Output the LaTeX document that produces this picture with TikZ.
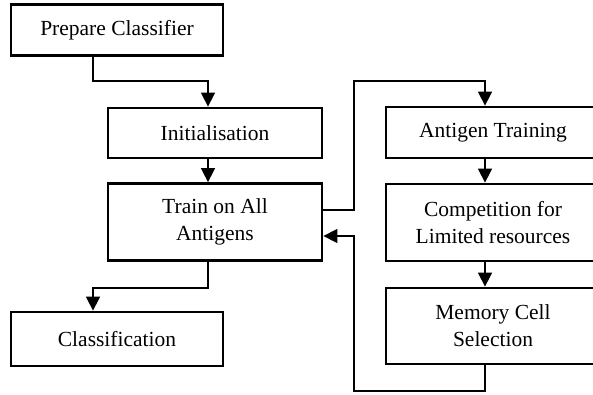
\documentclass[tikz,border=0pt]{standalone}
\usepackage{fontspec}
\setmainfont{Liberation Serif}
\usetikzlibrary{arrows.meta,calc}
\tikzset{
  boxnode/.style={draw=black, line width=2.8pt, rectangle, minimum width=212pt, align=center, inner sep=0pt, font=\fontsize{21.5}{27}\selectfont},
  conn/.style={line width=1.6pt, -{Triangle[width=14pt,length=14pt]}},
  plainconn/.style={line width=1.6pt}
}
\begin{document}
\begin{tikzpicture}[x=1pt,y=-1pt]
\useasboundingbox (0,0) rectangle (593,395);
\fill[white] (0,0) rectangle (593,395);
\clip (0,0) rectangle (593,395);
\node[boxnode, minimum height=51pt] (prep) at (117,30) {Prepare Classifier};
\node[boxnode, minimum width=214pt, minimum height=50pt] (init) at (215,133) {Initialisation};
\node[boxnode, minimum width=214pt, minimum height=77pt] (train) at (215,222) {Train on All\\Antigens};
\node[boxnode, minimum height=54pt] (cls) at (117,339) {Classification};
\node[boxnode, minimum width=214pt, minimum height=51pt] (at) at (493,132.5) {Antigen Training};
\node[boxnode, minimum width=214pt, minimum height=77pt] (comp) at (493,222.5) {Competition for\\Limited resources};
\node[boxnode, minimum width=214pt, minimum height=76pt] (mem) at (493,326) {Memory Cell\\Selection};
% prep -> init
\coordinate (a1) at (93,81);
\coordinate (a2) at (208,81);
\draw[conn] (prep.south -| a1) -- (a1) -- (a2) -- (init.north -| a2);
% init -> train
\draw[conn] (init.south -| a2) -- (train.north -| a2);
% train -> cls
\coordinate (b1) at (208,288);
\coordinate (b2) at (93,288);
\draw[conn] (train.south -| b1) -- (b1) -- (b2) -- (cls.north -| b2);
% train -> antigen training
\coordinate (c0) at (354,210);
\coordinate (c1) at (354,81);
\coordinate (c2) at (485,81);
\draw[conn] (train.east |- c0) -- (c0) -- (c1) -- (c2) -- (at.north -| c2);
% at -> comp -> mem
\draw[conn] (at.south -| c2) -- (comp.north -| c2);
\draw[conn] (comp.south -| c2) -- (mem.north -| c2);
% mem -> train (feedback)
\coordinate (d1) at (485,391);
\coordinate (d2) at (354,391);
\coordinate (d3) at (354,236);
\draw[conn] (mem.south -| d1) -- (d1) -- (d2) -- (d3) -- (train.east |- d3);
\end{tikzpicture}
\end{document}
